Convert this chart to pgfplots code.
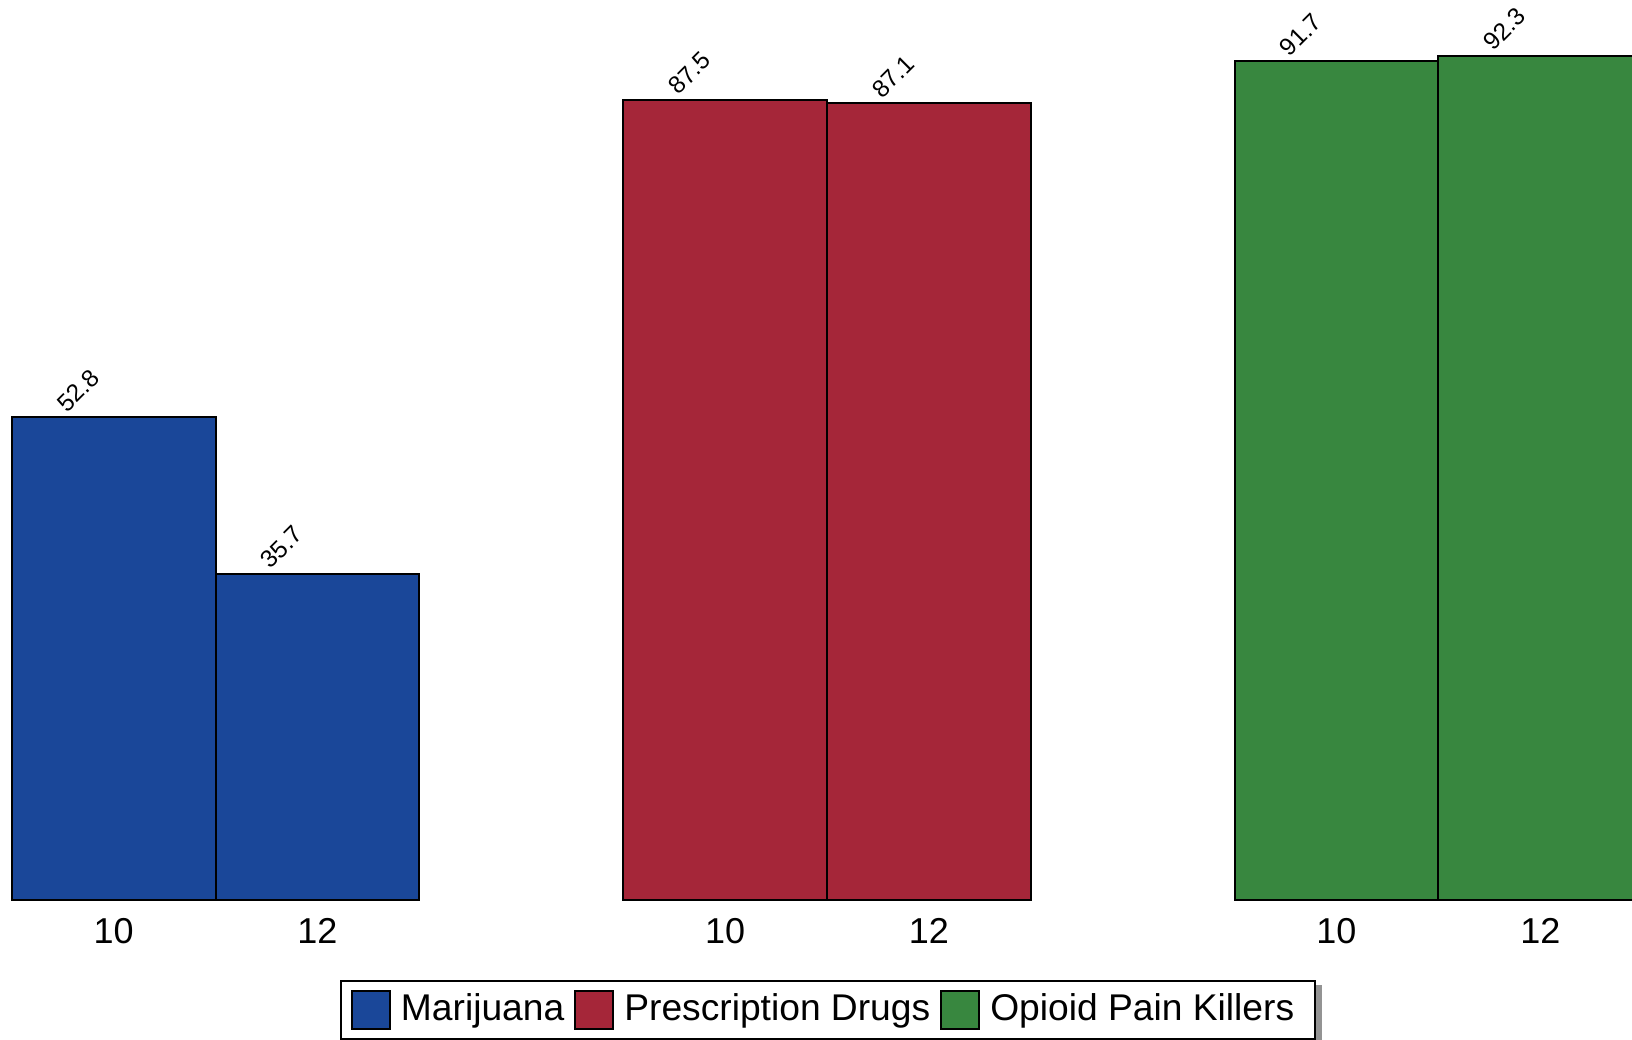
\documentclass[border=0pt]{standalone}
\usepackage{pgfplots}
\pgfplotsset{compat=1.18}
\usepackage{fontspec}
\setmainfont{Liberation Sans}
\definecolor{mblue}{HTML}{1A4799}
\definecolor{mred}{HTML}{A52639}
\definecolor{mgreen}{HTML}{38873F}
\begin{document}
\begin{tikzpicture}
\begin{axis}[
  width=408pt, height=225.8pt, scale only axis,
  xmin=-0.0574, xmax=7.950, ymin=-0.3, ymax=98.4,
  ybar, bar width=1, bar shift=0pt,
  axis line style={draw=none}, tick style={draw=none},
  major tick length=0pt,
  ytick=\empty,
  xtick={0.5,1.5,3.5,4.5,6.5,7.5},
  xticklabels={10,12,10,12,10,12},
  xticklabel style={font=\fontsize{9}{10}\selectfont, anchor=base, yshift=-10pt},
  nodes near coords={\pgfmathprintnumber[fixed,fixed zerofill,precision=1,assume math mode=true]{\pgfplotspointmeta}},
  nodes near coords style={font=\fontsize{6.1}{7}\selectfont, inner sep=0pt, anchor=south west, xshift=-11.6pt, yshift=0.6pt, rotate=45},
  legend columns=-1,
  legend image code/.code={\draw[#1, line width=0.5pt] (0pt,-4.75pt) rectangle (9.5pt,4.75pt);},
  legend style={
    name=leg,
    at={(axis description cs:0.2083,-0.0852)}, anchor=north west,
    draw=black, line width=0.5pt, fill=white,
    font=\fontsize{9.3}{11}\selectfont,
    inner xsep=2.4pt, inner ysep=2.2pt,
    nodes={inner sep=0pt},
    /tikz/every even column/.append style={column sep=2.4pt},
    /tikz/every odd column/.append style={column sep=2.6pt},
  },
]
\addplot[fill=mblue, draw=black, line width=0.5pt, bar shift=0pt] coordinates {(0.5,52.8) (1.5,35.7)};
\addplot[fill=mred, draw=black, line width=0.5pt, bar shift=0pt] coordinates {(3.5,87.5) (4.5,87.1)};
\addplot[fill=mgreen, draw=black, line width=0.5pt, bar shift=0pt] coordinates {(6.5,91.7) (7.5,92.3)};
\legend{Marijuana,Prescription Drugs,Opioid Pain Killers\kern2.9pt}
\end{axis}
\fill[gray!85] ([yshift=-1.1pt]leg.north east) rectangle ([xshift=1.3pt,yshift=-1.3pt]leg.south east);
\fill[gray!85] ([xshift=1.1pt]leg.south west) rectangle ([xshift=1.3pt,yshift=-1.3pt]leg.south east);
\pgfresetboundingbox
\path[use as bounding box] ([yshift=-34pt]current axis.south west) rectangle (current axis.north east);
\end{tikzpicture}
\end{document}
